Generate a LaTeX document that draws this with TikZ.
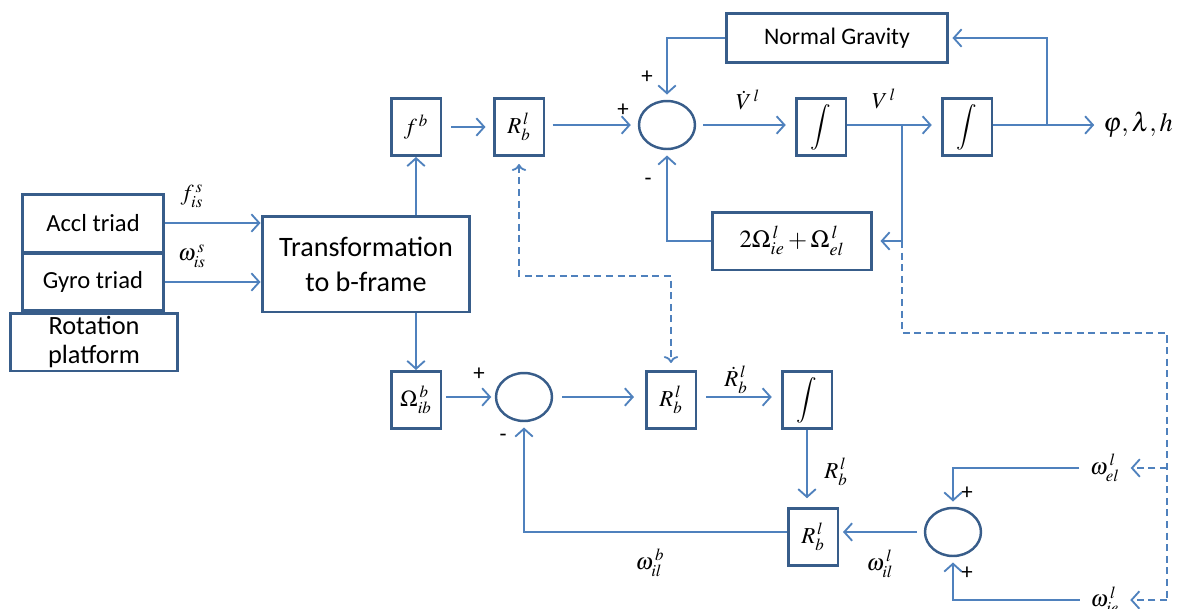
\documentclass[tikz,border=0pt]{standalone}
\usepackage{mathptmx}
\usepackage[no-math]{fontspec}
\setmainfont{Carlito}
\usetikzlibrary{shapes.geometric,arrows.meta}
\definecolor{lineblue}{HTML}{4F81BD}
\definecolor{boxblue}{HTML}{385D8A}
\tikzset{
	blk/.style={draw=boxblue,line width=1.7pt,inner sep=1pt,minimum width=1cm,minimum height=1.14cm,font=\fontsize{13}{15}\selectfont},
	wblk/.style 2 args={draw=boxblue,line width=1.7pt,inner sep=1pt,minimum width=#1,minimum height=#2,align=center},
	sumc/.style={ellipse,draw=boxblue,line width=1.4pt,minimum width=1.12cm,minimum height=0.96cm,inner sep=0pt},
	sig/.style={draw=lineblue,line width=1.05pt,-{Straight Barb[length=4.5pt,width=10pt]}},
	dsig/.style={sig,dash pattern=on 4pt off 2.6pt},
	lbl/.style={inner sep=0pt,font=\fontsize{13}{15}\selectfont},
	sgn/.style={inner sep=0pt,font=\fontsize{13}{13}\selectfont}
}

\begin{document}
\begin{tikzpicture}[x=0.02cm,y=-0.02cm]
	\useasboundingbox (0,0) rectangle (1178,609);
	% sensors
	\node [wblk={2.84cm}{1.16cm},font=\fontsize{14}{16}\selectfont] (accl) at (93,223) {Accl triad};
	\node [wblk={2.84cm}{1.14cm},font=\fontsize{14}{16}\selectfont] (gyro) at (93,282) {Gyro triad};
	\node [wblk={3.36cm}{1.16cm},font=\fontsize{15}{17}\selectfont] (rot) at (94,342) {Rotation\\platform};
	\node [wblk={4.16cm}{1.92cm},font=\fontsize{16}{20}\selectfont] (trans) at (366,264) {Transformation\\to b-frame};

	% velocity part
	\node [blk] (fb) at (416,127) {$f^{\,b}$};
	\node [blk] (rb1) at (519,127) {$R_b^{\,l}$};
	\node [sumc] (sum1) at (667,125) {};
	\node [wblk={4.42cm}{0.98cm},font=\fontsize{13.5}{15}\selectfont] (ng) at (837,38) {Normal Gravity};
	\node [blk] (int1) at (821,127) {$\displaystyle\int$};
	\node [blk] (int2) at (967,127) {$\displaystyle\int$};
	\node [wblk={3.2cm}{1.16cm},font=\fontsize{14}{16}\selectfont] (cor) at (792,241) {$2\Omega_{ie}^{\,l}+\Omega_{el}^{\,l}$};
	\node [lbl,anchor=west,font=\fontsize{15}{17}\selectfont] (pos) at (1103,125) {$\varphi,\lambda,h$};

	% attitude part
	\node [blk] (omb) at (416,400) {$\Omega_{ib}^{\,b}$};
	\node [sumc] (sum2) at (524,397) {};
	\node [blk] (rb2) at (671,400) {$R_b^{\,l}$};
	\node [blk] (int3) at (807,400) {$\displaystyle\int$};
	\node [blk] (rb3) at (813,537) {$R_b^{\,l}$};
	\node [sumc] (sum3) at (953,532) {};
	\node [lbl] (wel) at (1105,468) {$\omega_{el}^{\,l}$};
	\node [lbl] (wie) at (1105,600) {$\omega_{ie}^{\,l}$};

	\coordinate (br1) at (902,125);
	\coordinate (br2) at (1047,125);
	\coordinate (dcorner) at (1167,333);

	% sensor outputs
	\draw [sig] (accl.east) -- (accl.east -| trans.west);
	\draw [sig] (gyro.east) -- (gyro.east -| trans.west);
	\node [lbl] (fis) at (192,196) {$f_{is}^{\,s}$};
	\node [lbl] (wis) at (192,256) {$\omega_{is}^{\,s}$};
	\draw [sig] (fb.south |- trans.north) -- (fb.south);
	\draw [sig] (omb.north |- trans.south) -- (omb.north);

	% velocity loop
	\draw [sig,shorten <=5pt,shorten >=4pt] (fb.east) -- (rb1.west);
	\draw [sig,shorten <=4pt,shorten >=4pt] (rb1.east |- sum1.west) -- (sum1.west);
	\draw [sig,shorten >=3pt] (ng.west) -| (sum1.north);
	\draw [sig,shorten <=4pt,shorten >=5pt] (sum1.east) -- (sum1.east -| int1.west);
	\draw [sig,shorten >=5pt] (int1.east |- br1) -- (br1 -| int2.west);
	\draw [sig,shorten >=5pt] (int2.east |- br2) -- (pos.west);
	\draw [sig,shorten >=2pt] (br2) |- (ng.east);
	\draw [sig,shorten >=4pt] (br1) |- (cor.east);
	\draw [sig,shorten >=3pt] (cor.west) -| (sum1.south);
	\node [lbl] (vdot) at (748,100) {$\dot{V}^{\,l}$};
	\node [lbl] (vl) at (884,99) {$V^{\,l}$};
	\node [sgn] (p1) at (623,110) {+};
	\node [sgn] (p2) at (647,77) {+};
	\node [sgn] (m1) at (648,182) {-};

	% dashed links
	\draw [dsig,<->,shorten <=4pt,shorten >=4pt] (rb1.south) -- (519,276) -| (rb2.north);
	\draw [dsig,-] (cor.east -| br1) |- (dcorner) -- (dcorner |- wie);
	\draw [dsig,shorten >=6pt] (dcorner |- wel) -- (wel.east);
	\draw [dsig,shorten >=6pt] (dcorner |- wie) -- (wie.east);

	% attitude loop
	\draw [sig,shorten <=2pt,shorten >=2pt] (omb.east |- sum2.west) -- (sum2.west);
	\draw [sig,shorten <=5pt,shorten >=6pt] (sum2.east) -- (sum2.east -| rb2.west);
	\draw [sig,shorten <=5pt,shorten >=5pt] (rb2.east |- sum2.east) -- (sum2.east -| int3.west);
	\draw [sig,shorten >=5pt] (int3.south) -- (int3.south |- rb3.north);
	\draw [sig,shorten >=3pt] (rb3.west |- sum3.west) -| (sum2.south);
	\draw [sig,shorten <=4pt,shorten >=2pt] (sum3.west) -- (sum3.west -| rb3.east);
	\draw [sig,shorten <=6pt,shorten >=3pt] (wel.west) -| (sum3.north);
	\draw [sig,shorten <=6pt,shorten >=3pt] (wie.west) -| (sum3.south);
	\node [lbl] (rdot) at (736,380) {$\dot{R}_b^{\,l}$};
	\node [lbl] (rbl) at (836,472) {$R_b^{\,l}$};
	\node [lbl] (wilb) at (650,563) {$\omega_{il}^{\,b}$};
	\node [lbl] (will) at (880,564) {$\omega_{il}^{\,l}$};
	\node [sgn] (p3) at (479,374) {+};
	\node [sgn] (m2) at (503,438) {-};
	\node [sgn] (p4) at (967,493) {+};
	\node [sgn] (p5) at (967,573) {+};
\end{tikzpicture}
\end{document}
